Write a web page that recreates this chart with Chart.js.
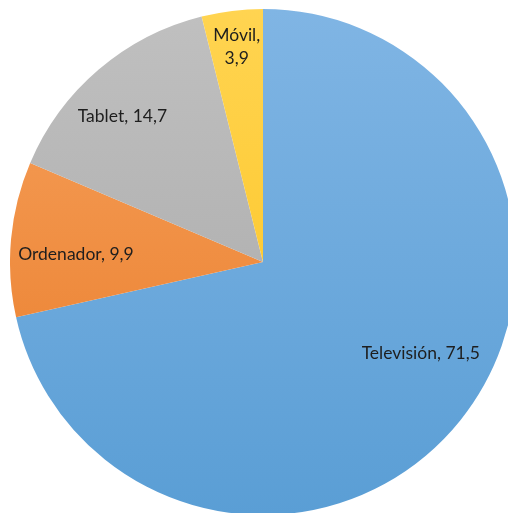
<!DOCTYPE html>
<html>
<head>
<meta charset="utf-8">
<script src="https://cdn.jsdelivr.net/npm/chart.js@4"></script>
<style>
  html, body { margin: 0; padding: 0; background: #fff; overflow: hidden; width: 508px; height: 513px; }
  #wrap { position: absolute; left: 10px; top: 9px; width: 506px; height: 506px; }
</style>
</head>
<body>
<div id="wrap"><canvas id="chart" width="506" height="506"></canvas></div>
<script>
const labels = ['Televisión', 'Ordenador', 'Tablet', 'Móvil'];
const values = [71.5, 9.9, 14.7, 3.9];

// top / bottom colour of each slice gradient
const topColors = ['#80b5e4', '#f7a25e', '#c0c0c0', '#ffd451'];
const bottomColors = ['#5a9ed5', '#e87a26', '#a6a6a6', '#fcc21a'];

// label placement: fraction of radius, nudge of the angle in degrees
const labelRadius = [0.72, 0.74, 0.80, 0.85];
const labelNudge = [-8.7, -2.8, -3.5, 0];

function sliceFill(c) {
    const chart = c.chart;
    const area = chart.chartArea;
    if (!area) return topColors[c.dataIndex];
    const g = chart.ctx.createLinearGradient(0, area.top, 0, area.bottom);
    g.addColorStop(0, topColors[c.dataIndex]);
    g.addColorStop(1, bottomColors[c.dataIndex]);
    return g;
}

const sliceLabels = {
    id: 'sliceLabels',
    afterDatasetsDraw(chart) {
        const ctx = chart.ctx;
        const meta = chart.getDatasetMeta(0);
        ctx.save();
        ctx.font = '17.5px Lato';
        ctx.fillStyle = '#1e1e1e';
        ctx.textAlign = 'center';
        ctx.textBaseline = 'middle';
        meta.data.forEach((arc, i) => {
            const p = arc.getProps(['x', 'y', 'startAngle', 'endAngle', 'outerRadius'], true);
            const mid = (p.startAngle + p.endAngle) / 2 + labelNudge[i] * Math.PI / 180;
            const r = p.outerRadius * labelRadius[i];
            const x = p.x + Math.cos(mid) * r;
            const y = p.y + Math.sin(mid) * r;
            const val = values[i].toFixed(1).replace('.', ',');
            if (i === 3) {
                ctx.fillText(labels[i] + ',', x, y - 13);
                ctx.fillText(val, x, y + 10);
            } else {
                ctx.fillText(labels[i] + ', ' + val, x, y);
            }
        });
        ctx.restore();
    }
};

const ctx = document.getElementById('chart').getContext('2d');

const chart = new Chart(ctx, {
    type: 'pie',
    data: {
        labels: labels,
        datasets: [{
            data: values,
            backgroundColor: sliceFill,
            borderWidth: 0
        }]
    },
    options: {
        responsive: false,
        animation: false,
        layout: { padding: 0 },
        plugins: {
            legend: { display: false },
            tooltip: { enabled: false }
        }
    },
    plugins: [sliceLabels]
});
</script>
</body>
</html>
